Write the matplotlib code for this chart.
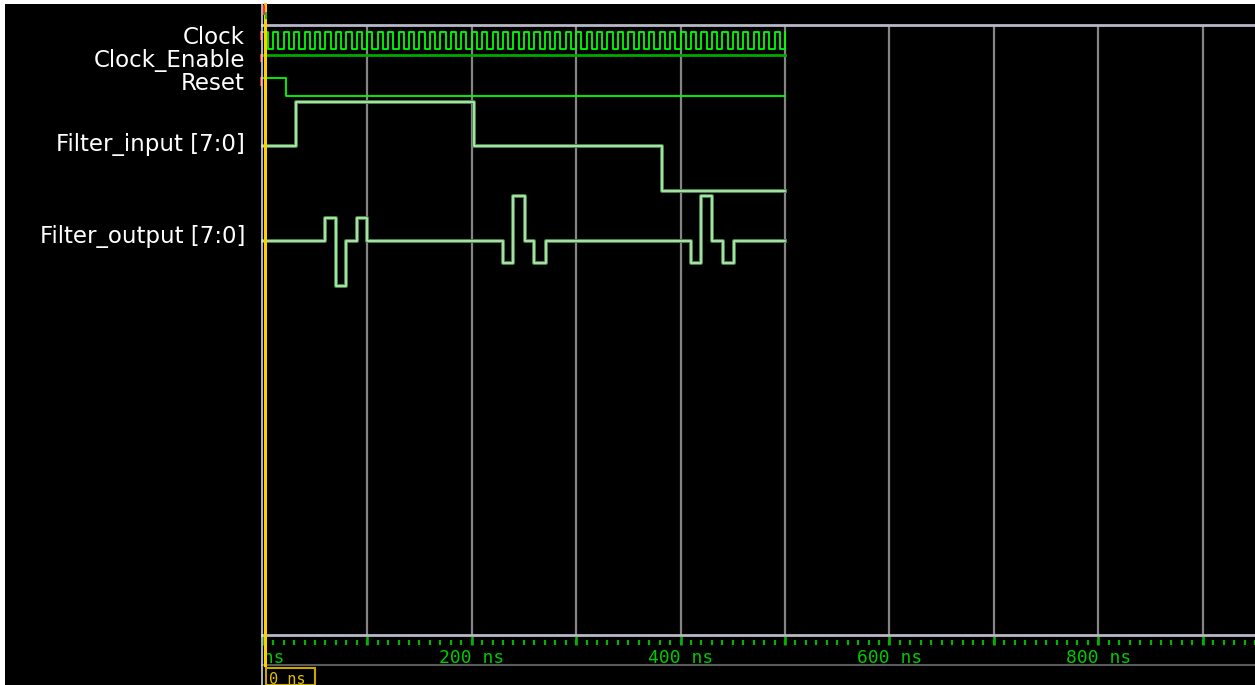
import numpy as np
import matplotlib
matplotlib.use("Agg")
import matplotlib.pyplot as plt
import matplotlib.patheffects as pe
from matplotlib.patches import Rectangle
from matplotlib.lines import Line2D

# ---------------- data ----------------
signal_names = ["Clock", "Clock_Enable", "Reset", "Filter_input [7:0]", "Filter_output [7:0]"]
sim_end_ns = 500
view_end_ns = 950
clock_period_ns = 10
clock_enable_times = [0]
clock_enable_values = [1]
reset_times = [0, 22]
reset_values = [1, 0]
filter_input_times = [0, 32, 202, 382]
filter_input_values = [0, 127, 0, -128]
filter_output_times = [0, 60, 70, 80, 90, 100, 230, 240, 251, 260, 271, 410, 420, 430, 441, 451]
filter_output_values = [0, 64, -128, 0, 64, 0, -64, 127, 0, -64, 0, -64, 127, 0, -64, 0]
grid_ns = [100, 200, 300, 400, 500, 600, 700, 800, 900]
time_label_ns = [0, 200, 400, 600, 800]
minor_tick_step_ns = 10
major_tick_step_ns = 100
cursor_label = "0 ns"

# ---------------- layout ----------------
W, H = 1255, 685
fig = plt.figure(figsize=(W / 100, H / 100), dpi=100, facecolor="white")


def rect(x0, y0, x1, y1):
    return [x0 / W, 1 - y1 / H, (x1 - x0) / W, (y1 - y0) / H]


X0 = 262.8  # pixel of t = 0
fig.add_artist(Rectangle((5 / W, 0), 1 - 5 / W, 1 - 4 / H, transform=fig.transFigure,
                         facecolor="black", edgecolor="none", zorder=-10))


def wave_axes(y_top, y_bot, vlo, vhi):
    ax = fig.add_axes(rect(X0, y_top, W, y_bot))
    ax.set_xlim(0, view_end_ns)
    ax.set_ylim(vlo, vhi)
    ax.axis("off")
    return ax


def steps(times, values):
    t = list(times) + [sim_end_ns]
    v = list(values) + [values[-1]]
    return t, v


# grid area
grid_ax = wave_axes(26, 635, 0, 1)
for g in grid_ns:
    grid_ax.axvline(g, color="#858585", lw=1.6, zorder=1)

# top & axis horizontal lines
fig.add_artist(Line2D([262 / W, 1], [1 - 25 / H] * 2, transform=fig.transFigure,
                      color="#b8b8c8", lw=2.0))
fig.add_artist(Line2D([262 / W, 1], [1 - 635 / H] * 2, transform=fig.transFigure,
                      color="#b8b8c8", lw=2.0))
fig.add_artist(Line2D([262 / W, 1], [1 - 665 / H] * 2, transform=fig.transFigure,
                      color="#5a5a5a", lw=1.5))
# panel divider and cursor
fig.add_artist(Line2D([262 / W] * 2, [0, 1 - 4 / H], transform=fig.transFigure,
                      color="#e8e8e8", lw=1.1))
fig.add_artist(Line2D([265 / W] * 2, [1 - 665 / H, 1 - 4 / H], transform=fig.transFigure,
                      color="#ffd000", lw=2.2, zorder=5))
# small status marks at the top of the cursor
fig.add_artist(Line2D([263.5 / W] * 2, [1 - 6 / H, 1 - 14 / H], transform=fig.transFigure,
                      color="#ff3030", lw=1.5, zorder=6))
fig.add_artist(Line2D([265.5 / W] * 2, [1 - 13 / H, 1 - 18 / H], transform=fig.transFigure,
                      color="#20c020", lw=1.5, zorder=6))

# Clock
ax_clk = wave_axes(32, 49, 0, 1)
half = clock_period_ns / 2
clk_t = np.arange(0, sim_end_ns + half, half)
clk_v = (np.arange(len(clk_t)) % 2 == 0).astype(int)
ax_clk.step(clk_t, clk_v, where="post", color="#00ff00", lw=1.3, clip_on=False)

# Clock_Enable
ax_ce = wave_axes(54.5, 71.5, 0, 1)
t, v = steps(clock_enable_times, clock_enable_values)
ax_ce.step(t, v, where="post", color="#00a800", lw=2.0, clip_on=False)

# Reset
ax_rst = wave_axes(78, 96, 0, 1)
t, v = steps(reset_times, reset_values)
ax_rst.step(t, v, where="post", color="#00ff00", lw=1.3, clip_on=False)

# red initial markers
for ax in (ax_clk, ax_ce, ax_rst):
    ax.plot([-1.5, -1.5], [1, 0.6], color="#ff2020", lw=1.5, clip_on=False, zorder=6)

analog_fx = [pe.Stroke(linewidth=2.8, foreground="#4e8a4e"), pe.Normal()]

# Filter_input
ax_in = wave_axes(102, 191, -128, 127)
t, v = steps(filter_input_times, filter_input_values)
ax_in.step(t, v, where="post", color="#b8f0b8", lw=1.2, clip_on=False, path_effects=analog_fx)

# Filter_output
ax_out = wave_axes(196, 286, -128, 127)
t, v = steps(filter_output_times, filter_output_values)
ax_out.step(t, v, where="post", color="#b8f0b8", lw=1.2, clip_on=False, path_effects=analog_fx)

# signal names
label_y_px = [37, 61, 83, 145, 237]
for name, y in zip(signal_names, label_y_px):
    fig.text(245 / W, 1 - y / H, name, ha="right", va="center", color="white",
             fontsize=16.5, family="DejaVu Sans")

# time axis
ax_t = wave_axes(635, 665, 0, 1)
minor = np.arange(0, view_end_ns + 1, minor_tick_step_ns)
major = np.arange(0, view_end_ns + 1, major_tick_step_ns)
ax_t.vlines(minor, 0.667, 0.833, color="#00b400", lw=1.6)
ax_t.vlines(major, 0.667, 0.967, color="#00b400", lw=1.9)
for tl in time_label_ns:
    ax_t.text(tl, 0.22, f"{tl} ns", ha="center", va="center", color="#00c800",
              fontsize=13, family="DejaVu Sans Mono", clip_on=True)

# cursor box
fig.add_artist(Rectangle((266 / W, 0), 49 / W, 1 - 667 / H - 0.002, transform=fig.transFigure,
                         facecolor="none", edgecolor="#c8a800", lw=1.5))
fig.text(269 / W, 1 - 680 / H, cursor_label, ha="left", va="center", color="#e0c000",
         fontsize=11, family="DejaVu Sans Mono")

fig.savefig("out.png", dpi=100, facecolor=fig.get_facecolor())
